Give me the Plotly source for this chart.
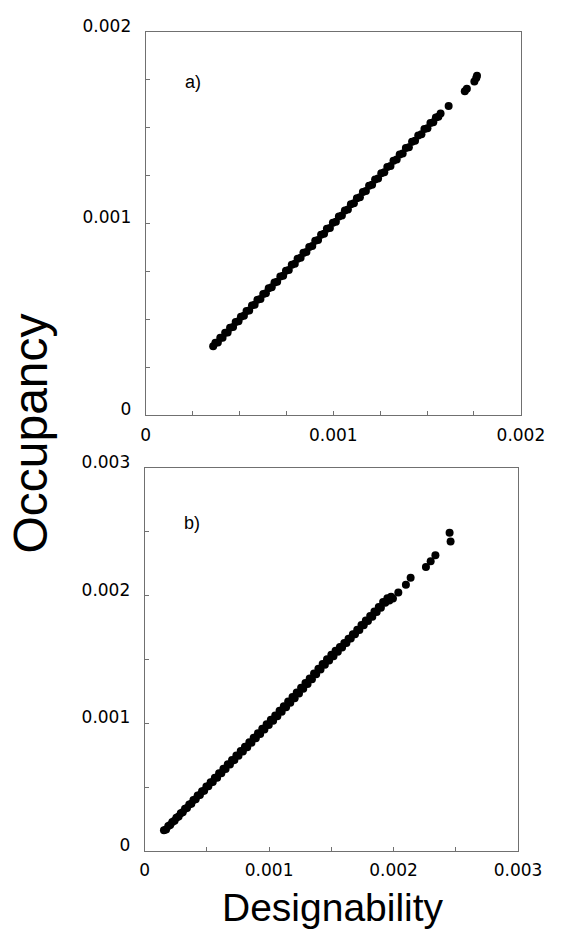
import numpy as np
import plotly.graph_objects as go

# ---- data (values in units of 1e-4) ----
top_designability_e4 = [
    3.60, 3.72, 3.85, 3.98, 4.10, 4.24, 4.37, 4.50, 4.66, 4.80, 4.95, 5.08, 5.24, 5.38, 5.52, 5.67,
    5.81, 5.96, 6.12, 6.27, 6.41, 6.56, 6.72, 6.87, 7.01, 7.18, 7.33, 7.48, 7.63, 7.79, 7.95, 8.10,
    8.26, 8.41, 8.57, 8.72, 8.88, 9.04, 9.19, 9.35, 9.51, 9.66, 9.82, 9.98, 10.14, 10.30, 10.46,
    10.62, 10.78, 10.94, 11.10, 11.26, 11.42, 11.58, 11.74, 11.91, 12.07, 12.23, 12.39, 12.56,
    12.72, 12.88, 13.05, 13.21, 13.38, 13.54, 13.70, 13.87, 14.03, 14.20, 14.36, 14.53, 14.70,
    14.86, 15.02, 15.18, 15.33, 15.47, 15.60, 15.72, 16.15, 17.01, 17.12, 17.52, 17.62, 17.66,
]
top_occupancy_e4 = [
    3.60, 3.78, 3.80, 4.04, 4.05, 4.30, 4.32, 4.56, 4.61, 4.86, 4.90, 5.14, 5.19, 5.44, 5.47, 5.73,
    5.76, 6.02, 6.07, 6.33, 6.36, 6.62, 6.67, 6.93, 6.96, 7.24, 7.28, 7.54, 7.58, 7.85, 7.90, 8.16,
    8.21, 8.47, 8.52, 8.78, 8.83, 9.10, 9.14, 9.41, 9.46, 9.72, 9.77, 10.04, 10.09, 10.36, 10.41,
    10.68, 10.73, 11.00, 11.05, 11.32, 11.37, 11.64, 11.69, 11.97, 12.02, 12.29, 12.34, 12.62,
    12.67, 12.94, 13.00, 13.27, 13.33, 13.60, 13.65, 13.93, 13.98, 14.26, 14.31, 14.59, 14.65,
    14.92, 14.97, 15.24, 15.28, 15.52, 15.56, 15.74, 16.12, 16.89, 17.02, 17.40, 17.58, 17.70,
]

bottom_designability_e4 = [
    1.55, 1.72, 1.90, 2.05, 2.22, 2.40, 2.55, 2.73, 2.90, 3.06, 3.24, 3.40, 3.58, 3.75, 3.92, 4.10,
    4.26, 4.44, 4.61, 4.78, 4.96, 5.12, 5.30, 5.47, 5.64, 5.82, 5.98, 6.16, 6.33, 6.50, 6.68, 6.85,
    7.02, 7.20, 7.37, 7.54, 7.72, 7.89, 8.06, 8.24, 8.41, 8.58, 8.76, 8.93, 9.10, 9.28, 9.45, 9.62,
    9.80, 9.97, 10.14, 10.32, 10.49, 10.66, 10.84, 11.01, 11.18, 11.36, 11.53, 11.70, 11.88, 12.05,
    12.22, 12.40, 12.57, 12.74, 12.92, 13.09, 13.26, 13.44, 13.61, 13.78, 13.96, 14.13, 14.30,
    14.48, 14.65, 14.82, 15.00, 15.17, 15.34, 15.52, 15.69, 15.86, 16.04, 16.21, 16.38, 16.56,
    16.73, 16.90, 17.08, 17.25, 17.42, 17.60, 17.77, 17.94, 18.12, 18.29, 18.46, 18.64, 18.81,
    18.98, 19.16, 19.33, 19.50, 19.66, 19.80, 19.95,
    20.38, 20.99, 21.37, 22.60, 22.98, 23.36, 24.50, 24.58,
]
bottom_occupancy_e4 = [
    1.61, 1.68, 1.95, 2.02, 2.27, 2.36, 2.60, 2.69, 2.95, 3.02, 3.30, 3.36, 3.63, 3.70, 3.98, 4.04,
    4.33, 4.38, 4.68, 4.72, 5.04, 5.06, 5.38, 5.40, 5.73, 5.74, 6.08, 6.08, 6.43, 6.42, 6.78, 6.76,
    7.12, 7.11, 7.47, 7.45, 7.82, 7.79, 8.17, 8.13, 8.52, 8.47, 8.87, 8.82, 9.22, 9.16, 9.57, 9.51,
    9.92, 9.86, 10.27, 10.20, 10.62, 10.55, 10.98, 10.90, 11.34, 11.26, 11.70, 11.62, 12.07, 11.97,
    12.42, 12.33, 12.78, 12.70, 13.15, 13.08, 13.52, 13.46, 13.90, 13.84, 14.28, 14.22, 14.64,
    14.58, 15.02, 14.92, 15.38, 15.26, 15.68, 15.60, 15.98, 15.94, 16.30, 16.30, 16.62, 16.64,
    16.98, 16.98, 17.34, 17.32, 17.70, 17.68, 18.06, 18.02, 18.42, 18.36, 18.76, 18.72, 19.12,
    19.06, 19.50, 19.44, 19.80, 19.62, 19.92, 19.78,
    20.26, 20.87, 21.40, 22.25, 22.71, 23.17, 24.94, 24.25,
]

top_tickvals = [0, 0.00025, 0.0005, 0.00075, 0.001, 0.00125, 0.0015, 0.00175, 0.002]
top_ticktext = ["0", "", "", "", "0.001", "", "", "", "0.002"]
bottom_tickvals = [0, 0.0005, 0.001, 0.0015, 0.002, 0.0025, 0.003]
bottom_ticktext = ["0", "", "0.001", "", "0.002", "", "0.003"]

assert len(top_designability_e4) == len(top_occupancy_e4)
assert len(bottom_designability_e4) == len(bottom_occupancy_e4)

E4 = 1e-4
tx = np.array(top_designability_e4) * E4
ty = np.array(top_occupancy_e4) * E4
bx = np.array(bottom_designability_e4) * E4
by = np.array(bottom_occupancy_e4) * E4

W, H = 581, 940
fig = go.Figure()
fig.add_trace(go.Scatter(x=tx, y=ty, mode="markers", xaxis="x", yaxis="y",
                         marker=dict(color="black", size=8, line=dict(width=0)),
                         showlegend=False, hoverinfo="skip"))
fig.add_trace(go.Scatter(x=bx, y=by, mode="markers", xaxis="x2", yaxis="y2",
                         marker=dict(color="black", size=8, line=dict(width=0)),
                         showlegend=False, hoverinfo="skip"))

axcol = "#707070"
tickfont = dict(family="DejaVu Sans", size=17, color="black")
common = dict(showgrid=False, zeroline=False, showline=True, linecolor=axcol, linewidth=1,
              mirror=True, ticks="inside", ticklen=4, tickcolor=axcol, tickwidth=1,
              tickfont=tickfont)

fig.update_layout(
    width=W, height=H, margin=dict(l=0, r=0, t=0, b=0),
    paper_bgcolor="white", plot_bgcolor="white",
    xaxis=dict(domain=[148 / W, 543 / W], range=[0, 0.002], anchor="y",
               tickvals=top_tickvals, ticktext=top_ticktext, ticklabelstandoff=4, **common),
    yaxis=dict(domain=[1 - 408 / H, 1 - 16 / H], range=[0, 0.002], anchor="x",
               tickvals=top_tickvals, ticktext=top_ticktext, ticklabelstandoff=10,
               ticklabelshift=-6, **common),
    xaxis2=dict(domain=[147 / W, 540 / W], range=[0, 0.003], anchor="y2",
                tickvals=bottom_tickvals, ticktext=bottom_ticktext, ticklabelstandoff=4, **common),
    yaxis2=dict(domain=[1 - 853 / H, 1 - 462 / H], range=[0, 0.003], anchor="x2",
                tickvals=bottom_tickvals, ticktext=bottom_ticktext, ticklabelstandoff=10,
                ticklabelshift=-6, **common),
)

lab = dict(family="Liberation Sans, Arial, sans-serif", size=18, color="black")
fig.add_annotation(text="a)", xref="x domain", yref="y domain", x=0.127, y=0.87,
                   xanchor="center", yanchor="middle", showarrow=False, font=lab)
fig.add_annotation(text="b)", xref="x2 domain", yref="y2 domain", x=0.127, y=0.857,
                   xanchor="center", yanchor="middle", showarrow=False, font=lab)

fig.add_annotation(text="Designability", xref="paper", yref="paper",
                   x=345 / W, y=1 - 911 / H, xanchor="center", yanchor="middle",
                   showarrow=False,
                   font=dict(family="Liberation Sans, Arial, sans-serif", size=39, color="black"))
fig.add_annotation(text="Occupancy", xref="paper", yref="paper",
                   x=27 / W, y=1 - 427 / H, xanchor="center", yanchor="middle",
                   showarrow=False, textangle=-90,
                   font=dict(family="Liberation Sans, Arial, sans-serif", size=48, color="black"))

fig.write_html("out.html")
